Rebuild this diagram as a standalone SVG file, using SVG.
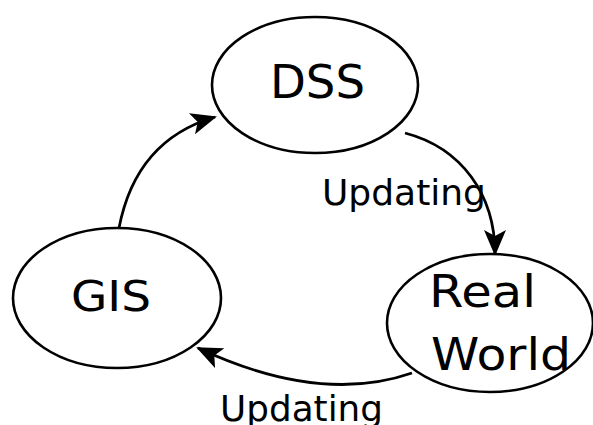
<svg xmlns="http://www.w3.org/2000/svg" width="593" height="425" viewBox="0 0 593 425">
<style>
.node ellipse{fill:#fff;stroke:#000;stroke-width:2.6}
text{font-family:"DejaVu Sans",sans-serif;fill:#000}
.edge{fill:none;stroke:#000;stroke-width:2.8}
</style>
<defs>
<marker id="ah" markerUnits="userSpaceOnUse" markerWidth="26" markerHeight="22" refX="24" refY="11" orient="auto" viewBox="0 0 26 22">
<path d="M0,0 L26,11 L0,22 L6,11 Z" fill="#000"/>
</marker>
</defs>
<rect width="593" height="425" fill="#fff"/>
<g id="connectors">
<path class="edge" d="M119,228 Q136,140 215,117" marker-end="url(#ah)"/>
<path class="edge" d="M405,133 C462,148 495,195 495,254" marker-end="url(#ah)"/>
<path class="edge" d="M412,373 Q320,405 198,348" marker-end="url(#ah)"/>
</g>
<g id="dss" class="node">
<ellipse cx="315" cy="85" rx="103" ry="68"/>
<text x="270" y="98" font-size="47" textLength="95" lengthAdjust="spacingAndGlyphs">DSS</text>
</g>
<g id="gis" class="node">
<ellipse cx="117" cy="298" rx="104" ry="70"/>
<text x="71" y="311" font-size="43" textLength="80" lengthAdjust="spacingAndGlyphs">GIS</text>
</g>
<g id="realworld" class="node">
<ellipse cx="490" cy="323" rx="103" ry="69"/>
<text x="429" y="307" font-size="45" textLength="107" lengthAdjust="spacingAndGlyphs">Real</text>
<text x="431" y="370" font-size="45" textLength="140" lengthAdjust="spacingAndGlyphs">World</text>
</g>
<g id="labels">
<text x="322" y="205" font-size="35" textLength="164" lengthAdjust="spacingAndGlyphs">Updating</text>
<text x="220" y="421" font-size="35" textLength="163" lengthAdjust="spacingAndGlyphs">Updating</text>
</g>
</svg>
